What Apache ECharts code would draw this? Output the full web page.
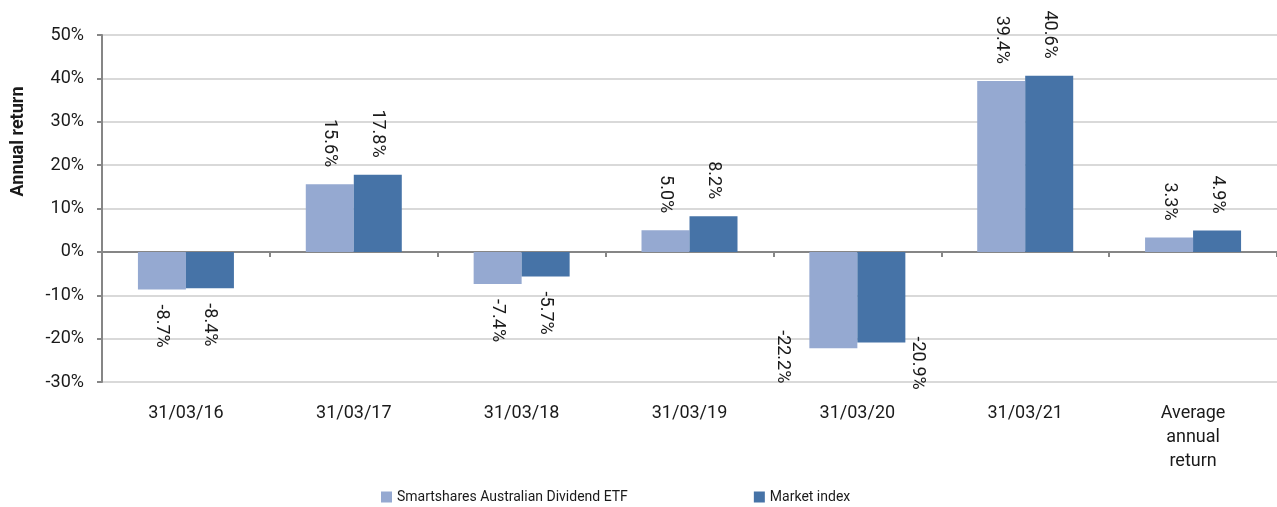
<!DOCTYPE html>
<html>
<head>
<meta charset="utf-8">
<script src="https://cdn.jsdelivr.net/npm/echarts@6/dist/echarts.min.js"></script>
<style>
  html, body { margin: 0; padding: 0; background: #fff; }
  #chart { width: 1277px; height: 507px; }
</style>
</head>
<body>
<div id="chart"></div>
<script>
const categories = ['31/03/16', '31/03/17', '31/03/18', '31/03/19', '31/03/20', '31/03/21', 'Average\nannual\nreturn']
const etfValues = [-8.7, 15.6, -7.4, 5.0, -22.2, 39.4, 3.3]
const marketValues = [-8.4, 17.8, -5.7, 8.2, -20.9, 40.6, 4.9]
const seriesNames = ['Smartshares Australian Dividend ETF', 'Market index']

const font = 'Roboto, "Noto Sans", sans-serif'
const textColor = '#1a1a1a'

// labels that would run out of the plot are moved beside the bar
// (offset is in the rotated label frame)
const labelOffsets = {
  '0-4': [-18, 51],
  '1-4': [-6, -36],
}

function buildData(values, seriesIdx) {
  return values.map((v, i) => {
    const item = { value: v }
    if (v < 0) {
      item.label = { position: 'bottom', align: 'left', distance: 15 }
      const off = labelOffsets[seriesIdx + '-' + i]
      if (off) {
        item.label.offset = off
        item.label.distance = 0
      }
    }
    return item
  })
}

const labelStyle = {
  show: true,
  position: 'top',
  rotate: -90,
  align: 'right',
  verticalAlign: 'middle',
  distance: 17,
  fontFamily: font,
  fontSize: 18,
  color: textColor,
  formatter: p => p.value.toFixed(1) + '%',
}

const chart = echarts.init(document.getElementById('chart'))
chart.setOption({
  animation: false,
  grid: { left: 102, right: 0, top: 35, bottom: 125, outerBoundsMode: 'none' },
  legend: {
    data: seriesNames,
    left: 376,
    top: 485,
    icon: 'rect',
    itemWidth: 11,
    itemHeight: 11,
    itemGap: 126,
    textStyle: { fontFamily: font, fontSize: 14, color: textColor },
  },
  xAxis: [
    {
      type: 'category',
      data: categories,
      position: 'bottom',
      axisLine: { show: false, onZero: false },
      axisTick: { show: false },
      axisLabel: {
        margin: 19,
        fontFamily: font,
        fontSize: 18,
        lineHeight: 24,
        color: textColor,
        interval: 0,
      },
    },
    {
      type: 'category',
      data: categories,
      position: 'top',
      axisLine: { show: true, onZero: true, lineStyle: { color: '#868686', width: 2 } },
      axisTick: { show: true, inside: true, length: 5, lineStyle: { color: '#868686', width: 2 } },
      axisLabel: { show: false },
    },
  ],
  yAxis: {
    type: 'value',
    min: -30,
    max: 50,
    interval: 10,
    name: 'Annual return',
    nameLocation: 'middle',
    nameGap: 75,
    nameTextStyle: {
      fontFamily: font,
      fontSize: 18,
      fontWeight: 'bold',
      color: textColor,
      padding: [0, 0, 0, 134],
    },
    axisLine: { show: true, lineStyle: { color: '#868686', width: 2 } },
    axisTick: { show: true, length: 5, lineStyle: { color: '#868686', width: 2 } },
    axisLabel: {
      margin: 18,
      fontFamily: font,
      fontSize: 18,
      color: textColor,
      formatter: v => v + '%',
    },
    splitLine: { lineStyle: { color: '#d9d9d9', width: 2 } },
  },
  series: [
    {
      name: seriesNames[0],
      type: 'bar',
      data: buildData(etfValues, 0),
      barWidth: 48,
      barGap: '0%',
      itemStyle: { color: '#95a9d1' },
      label: labelStyle,
    },
    {
      name: seriesNames[1],
      type: 'bar',
      data: buildData(marketValues, 1),
      barWidth: 48,
      barGap: '0%',
      itemStyle: { color: '#4673a7' },
      label: labelStyle,
    },
  ],
})
</script>
</body>
</html>
